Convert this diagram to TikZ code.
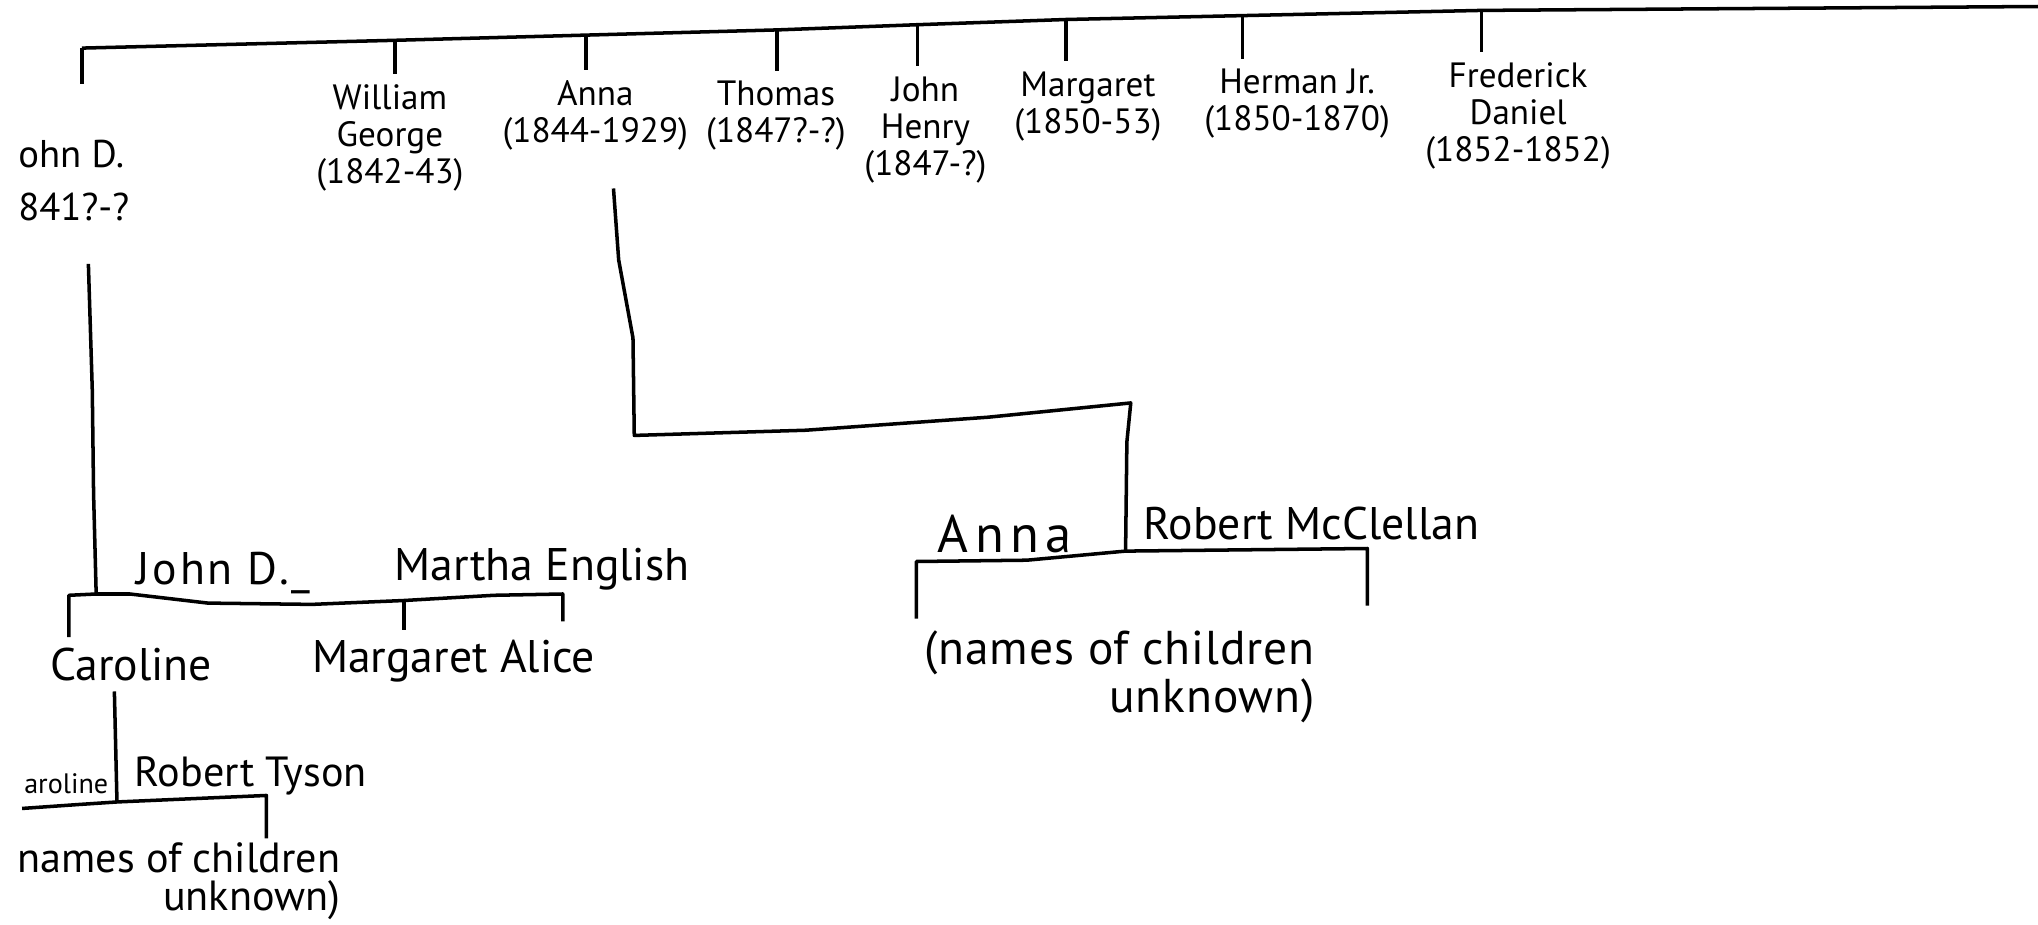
\documentclass[tikz,border=0pt]{standalone}
\usepackage{fontspec}
\setmainfont{PT Sans}

\begin{document}
\begin{tikzpicture}[x=0.013cm, y=-0.013cm, line width=1pt, line join=round,
    sib/.style={align=center, inner sep=0pt, outer sep=3pt, font=\fontsize{10}{10.5}\selectfont},
    spouse/.style={inner sep=0pt, outer sep=3pt, font=\fontsize{13}{13}\selectfont},
    kids/.style={align=right, anchor=east, inner sep=0pt, font=\fontsize{12.5}{11.5}\selectfont}]
  \useasboundingbox (0,0) rectangle (1568,711);

  % Nodes
  \node[sib, align=left, anchor=west, font=\fontsize{11}{15}\selectfont] (johnD) at (6,139) {ohn D.\\841?-?};
  \node[sib] (william) at (300,106) {William\\George\\(1842-43)};
  \node[sib] (anna) at (458,89) {Anna\\(1844-1929)};
  \node[sib] (thomas) at (597,89) {Thomas\\(1847?-?)};
  \node[sib] (johnH) at (712,100) {John\\Henry\\(1847-?)};
  \node[sib] (margaret) at (837,82) {Margaret\\(1850-53)};
  \node[sib] (herman) at (998,80) {Herman Jr.\\(1850-1870)};
  \node[sib] (frederick) at (1168,89) {Frederick\\Daniel\\(1852-1852)};

  \node[spouse, font=\fontsize{15}{15}\selectfont\addfontfeature{LetterSpace=12}] (annaM) at (773,411) {Anna};
  \node[spouse] (robertM) at (1009,403) {Robert McClellan};
  \node[kids, font=\fontsize{13.5}{12}\selectfont\addfontfeature{LetterSpace=2}] (annaKids) at (1013,521) {(names of children\\unknown)};

  \node[spouse, font=\fontsize{13}{13}\selectfont\addfontfeature{LetterSpace=6}] (johnDM) at (172,441) {John D.\_};
  \node[spouse] (martha) at (417,438) {Martha English};
  \node[spouse] (caroline) at (101,511) {Caroline};
  \node[spouse] (margaretA) at (349,509) {Margaret Alice};
  \node[spouse, font=\fontsize{8}{8}\selectfont] (carolineM) at (51,603) {aroline};
  \node[spouse, font=\fontsize{12}{12}\selectfont] (robertT) at (193,597) {Robert Tyson};
  \node[kids, font=\fontsize{12}{11}\selectfont] (carolineKids) at (263,678) {names of children\\unknown)};

  % Top bar
  \coordinate (bJohnD) at (63,37);
  \coordinate (bWilliam) at (304,31);
  \coordinate (bAnna) at (451,27);
  \coordinate (bThomas) at (598,23);
  \coordinate (bJohnH) at (706,19);
  \coordinate (bMargaret) at (820,15);
  \coordinate (bHerman) at (956,12);
  \coordinate (bFrederick) at (1140,8);
  \coordinate (barEnd) at (1568,5);
  \draw (bJohnD) -- (bWilliam) -- (bAnna) -- (bThomas) -- (bJohnH) -- (bMargaret) -- (bHerman) -- (bFrederick) -- (barEnd);

  % Edges
  \draw (bJohnD) -- ++(0,28);
  \foreach \s/\n in {bWilliam/william, bAnna/anna, bThomas/thomas, bJohnH/johnH,
                     bMargaret/margaret, bHerman/herman, bFrederick/frederick}
    \draw (\s) -- (\s |- \n.north);

  % Anna and Robert McClellan
  \coordinate (aTop) at (472,145);
  \coordinate (mAnnaL) at (705,432);
  \coordinate (mAnnaJ) at (866,424);
  \coordinate (mAnnaR) at (1052,422);
  \draw (aTop) -- (476,200) -- (487,260) -- (488,335) -- (620,331) -- (760,321) -- (870,310) -- (867,340) -- (mAnnaJ);
  \draw (705,476) -- (mAnnaL) -- (790,431) -- (mAnnaJ) -- (mAnnaR) -- (1052,466);

  % John D. and Martha English
  \coordinate (jTop) at (68,203);
  \coordinate (mJohnL) at (53,458);
  \coordinate (mJohnJ) at (74,457);
  \coordinate (mJohnM) at (311,462);
  \coordinate (mJohnR) at (433,457);
  \draw (jTop) -- (71,300) -- (72,380) -- (mJohnJ);
  \draw (mJohnL |- caroline.north) -- (mJohnL) -- (mJohnJ) -- (100,457) -- (160,464) -- (240,465) -- (mJohnM) -- (380,458) -- (mJohnR) -- (433,478);
  \draw (mJohnM) -- (mJohnM |- margaretA.north);

  % Caroline and Robert Tyson
  \coordinate (cTop) at (88,532);
  \coordinate (mCarJ) at (90,617);
  \coordinate (mCarR) at (205,612);
  \draw (cTop) -- (mCarJ);
  \draw (17,622) -- (60,619) -- (mCarJ) -- (mCarR) -- (205,645);
\end{tikzpicture}
\end{document}
